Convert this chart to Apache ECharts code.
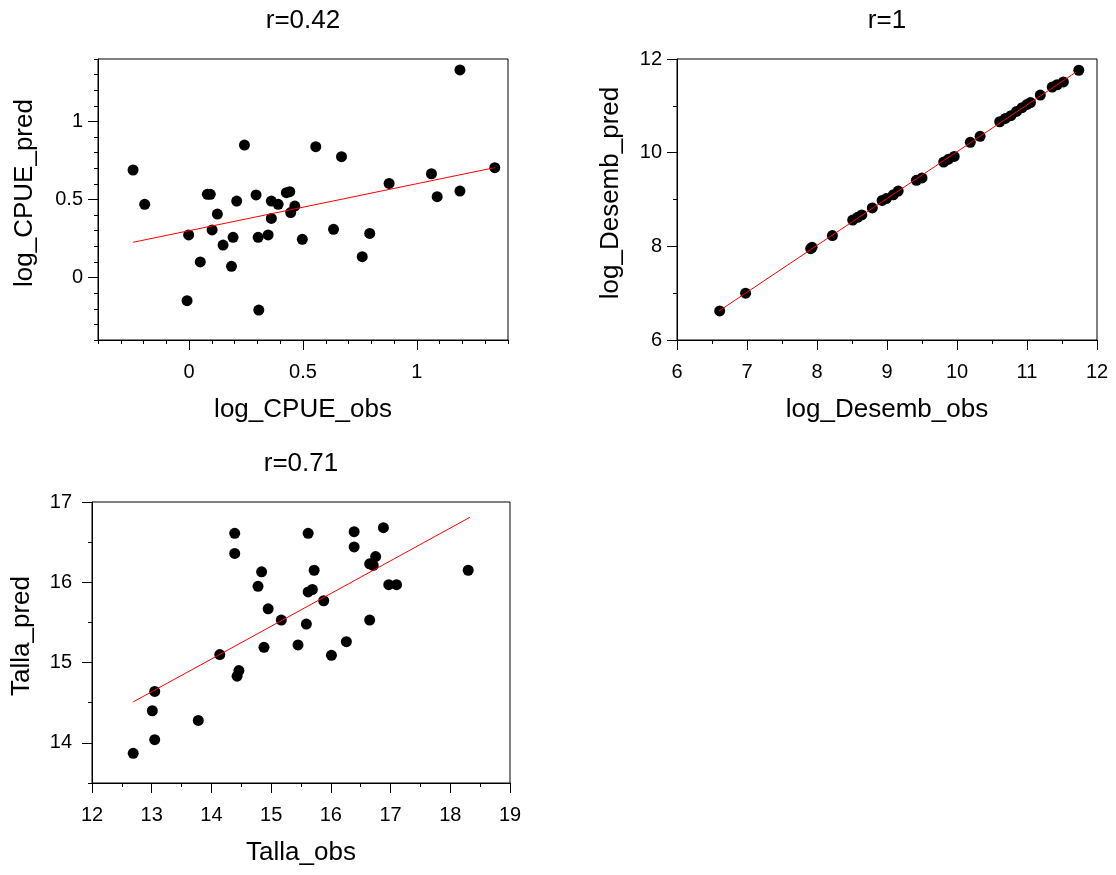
<!DOCTYPE html>
<html>
<head>
<meta charset="utf-8">
<script src="https://cdn.jsdelivr.net/npm/echarts@6/dist/echarts.min.js"></script>
<style>
  html, body { margin: 0; padding: 0; background: #fff; }
  #chart { width: 1116px; height: 875px; }
</style>
</head>
<body>
<div id="chart"></div>
<script>
// ---------------- Data ----------------
const cpueObs  = [-0.246, -0.195, -0.009, -0.002, 0.049, 0.080, 0.093, 0.101, 0.124, 0.149, 0.186, 0.193, 0.209, 0.243, 0.294, 0.303, 0.306, 0.347, 0.361, 0.361, 0.391, 0.427, 0.442, 0.446, 0.464, 0.497, 0.556, 0.634, 0.669, 0.760, 0.793, 0.878, 1.064, 1.089, 1.189, 1.189, 1.342];
const cpuePred = [0.689, 0.469, -0.148, 0.273, 0.100, 0.533, 0.533, 0.305, 0.407, 0.208, 0.072, 0.258, 0.490, 0.849, 0.529, 0.258, -0.208, 0.273, 0.379, 0.490, 0.469, 0.544, 0.550, 0.416, 0.458, 0.245, 0.838, 0.309, 0.774, 0.134, 0.283, 0.603, 0.665, 0.518, 0.554, 1.330, 0.704];
const cpueFitX = [-0.246, 1.342];
const cpueFitY = [0.226, 0.704];

const desembObs  = [6.61, 6.98, 7.91, 7.93, 8.22, 8.51, 8.58, 8.64, 8.79, 8.93, 8.99, 9.09, 9.16, 9.42, 9.50, 9.81, 9.88, 9.96, 10.19, 10.33, 10.61, 10.69, 10.77, 10.85, 10.93, 11.00, 11.05, 11.19, 11.36, 11.43, 11.52, 11.74];
const desembPred = [6.62, 7.00, 7.95, 7.98, 8.23, 8.56, 8.62, 8.67, 8.82, 8.98, 9.02, 9.10, 9.18, 9.41, 9.46, 9.80, 9.86, 9.92, 10.22, 10.35, 10.66, 10.73, 10.79, 10.88, 10.96, 11.03, 11.07, 11.23, 11.40, 11.45, 11.51, 11.76];
const desembFitX = [6.60, 11.70];
const desembFitY = [6.62, 11.72];

const tallaObs  = [12.69, 13.01, 13.05, 13.05, 13.78, 14.14, 14.39, 14.39, 14.43, 14.46, 14.78, 14.84, 14.88, 14.95, 15.17, 15.45, 15.59, 15.62, 15.62, 15.69, 15.72, 15.88, 16.01, 16.26, 16.39, 16.39, 16.65, 16.65, 16.71, 16.75, 16.88, 16.97, 17.10, 18.30];
const tallaPred = [13.87, 14.40, 14.04, 14.64, 14.28, 15.10, 16.61, 16.36, 14.83, 14.90, 15.95, 16.13, 15.19, 15.67, 15.53, 15.22, 15.48, 16.61, 15.88, 15.91, 16.15, 15.77, 15.09, 15.26, 16.63, 16.44, 15.53, 16.23, 16.21, 16.32, 16.68, 15.97, 15.97, 16.15];
const tallaFitX = [12.69, 18.33];
const tallaFitY = [14.51, 16.81];

// Axis tick values
const cpueMajor = [0, 0.5, 1];
const cpueYMajor = [0, 0.5, 1];
const cpueMinor = [-0.4, -0.3, -0.2, -0.1, 0, 0.1, 0.2, 0.3, 0.4, 0.5, 0.6, 0.7, 0.8, 0.9, 1.0, 1.1, 1.2, 1.3, 1.4];
const desembXMajor = [6, 7, 8, 9, 10, 11, 12];
const desembXMinor = [6.5, 7.5, 8.5, 9.5, 10.5, 11.5];
const desembYMajor = [6, 8, 10, 12];
const desembYMinor = [7, 9, 11];
const tallaXMajor = [12, 13, 14, 15, 16, 17, 18, 19];
const tallaXMinor = [12.5, 13.5, 14.5, 15.5, 16.5, 17.5, 18.5];
const tallaYMajor = [14, 15, 16, 17];
const tallaYMinor = [13.5, 14.5, 15.5, 16.5];

const titles = ['r=0.42', 'r=1', 'r=0.71'];
const xNames = ['log_CPUE_obs', 'log_Desemb_obs', 'Talla_obs'];
const yNames = ['log_CPUE_pred', 'log_Desemb_pred', 'Talla_pred'];

// ---------------- Build ----------------
const FONT = "'Liberation Sans', Arial, sans-serif";
const zip = (a, b) => a.map((v, i) => [v, b[i]]);

const grids = [
  { left: 98, top: 59, width: 410, height: 281 },
  { left: 677, top: 59, width: 420, height: 281 },
  { left: 92, top: 502, width: 418, height: 281 }
];
const ranges = [
  { x: [-0.4, 1.4], y: [-0.4, 1.4] },
  { x: [6, 12], y: [6, 12] },
  { x: [12, 19], y: [13.5, 17] }
];
const ticks = [
  { xM: cpueMajor, xm: cpueMinor, yM: cpueYMajor, ym: cpueMinor },
  { xM: desembXMajor, xm: desembXMinor, yM: desembYMajor, ym: desembYMinor },
  { xM: tallaXMajor, xm: tallaXMinor, yM: tallaYMajor, ym: tallaYMinor }
];
const yLabelMargin = [15, 15, 20];
const yNameGap = [60, 53, 57];
const xNameGap = [57, 57, 57];

const xAxis = [], yAxis = [], series = [], title = [];
const black = '#000';

grids.forEach((g, i) => {
  const r = ranges[i], t = ticks[i];
  xAxis.push({
    type: 'value', gridIndex: i, min: r.x[0], max: r.x[1], position: 'bottom',
    name: xNames[i], nameLocation: 'middle', nameGap: xNameGap[i],
    nameTextStyle: { fontFamily: FONT, fontSize: 26, color: black },
    axisLine: { show: true, onZero: false, lineStyle: { color: black, width: 1 } },
    axisTick: { show: true, length: 10, customValues: t.xM, lineStyle: { color: black } },
    axisLabel: { show: true, customValues: t.xM, margin: 22, fontFamily: FONT, fontSize: 20, color: black },
    splitLine: { show: false }
  });
  yAxis.push({
    type: 'value', gridIndex: i, min: r.y[0], max: r.y[1], position: 'left',
    name: yNames[i], nameLocation: 'middle', nameGap: yNameGap[i],
    nameTextStyle: { fontFamily: FONT, fontSize: 26, color: black, padding: [0, 0, 0, 13] },
    axisLine: { show: true, onZero: false, lineStyle: { color: black, width: 1 } },
    axisTick: { show: true, length: 10, customValues: t.yM, lineStyle: { color: black } },
    axisLabel: { show: true, customValues: t.yM, margin: yLabelMargin[i], fontFamily: FONT, fontSize: 20, color: black },
    splitLine: { show: false }
  });
});
// minor-tick axes
grids.forEach((g, i) => {
  const r = ranges[i], t = ticks[i];
  xAxis.push({
    type: 'value', gridIndex: i, min: r.x[0], max: r.x[1], position: 'bottom',
    axisLine: { show: false, onZero: false },
    axisTick: { show: true, length: 4, customValues: t.xm, lineStyle: { color: black } },
    axisLabel: { show: false }, splitLine: { show: false }
  });
  yAxis.push({
    type: 'value', gridIndex: i, min: r.y[0], max: r.y[1], position: 'left',
    axisLine: { show: false, onZero: false },
    axisTick: { show: true, length: 4, customValues: t.ym, lineStyle: { color: black } },
    axisLabel: { show: false }, splitLine: { show: false }
  });
});

const pts = [zip(cpueObs, cpuePred), zip(desembObs, desembPred), zip(tallaObs, tallaPred)];
const fits = [zip(cpueFitX, cpueFitY), zip(desembFitX, desembFitY), zip(tallaFitX, tallaFitY)];

pts.forEach((p, i) => {
  series.push({
    type: 'scatter', xAxisIndex: i, yAxisIndex: i, data: p,
    symbol: 'circle', symbolSize: 11, itemStyle: { color: '#000', opacity: 1 },
    silent: true, z: 2
  });
  series.push({
    type: 'line', xAxisIndex: i, yAxisIndex: i, data: fits[i],
    symbol: 'none', lineStyle: { color: '#ff0000', width: 1 },
    silent: true, z: 3, animation: false
  });
});

const titlePos = [
  { left: 303, top: 8 },
  { left: 887, top: 8 },
  { left: 301, top: 451 }
];
titles.forEach((tx, i) => {
  title.push({
    text: tx, left: titlePos[i].left, top: titlePos[i].top, textAlign: 'center', padding: 0,
    textStyle: { fontFamily: FONT, fontSize: 26, fontWeight: 'normal', color: black }
  });
});

const chart = echarts.init(document.getElementById('chart'), null, { renderer: 'canvas' });
chart.setOption({
  backgroundColor: '#fff',
  animation: false,
  title,
  grid: grids.map(g => Object.assign({ show: true, borderColor: '#000', borderWidth: 1, backgroundColor: 'transparent', containLabel: false }, g)),
  xAxis, yAxis, series
});
</script>
</body>
</html>
